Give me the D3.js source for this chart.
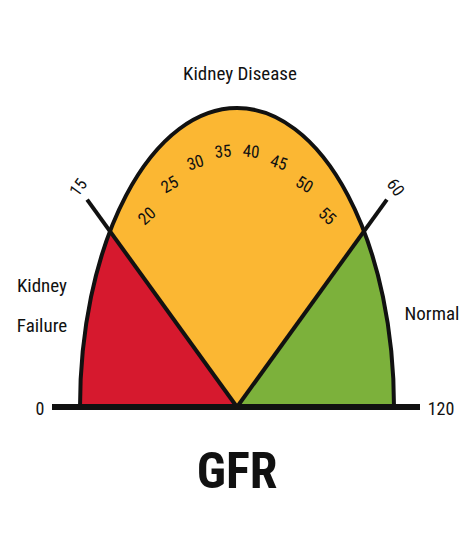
<!DOCTYPE html><html><head><script src="https://d3js.org/d3.v7.min.js"></script>
<style>body{margin:0;background:#fff}text{font-family:"Liberation Sans Narrow","Roboto Condensed","Liberation Sans",Arial,sans-serif}</style></head><body>
<script>
const zoneBounds=[0,15,60,120];
const zoneColors=["#d6192e","#fbb733","#7cb13b"];
const tickValues=[20,25,30,35,40,45,50,55];
const edgeTicks=[15,60];
const W=474,H=544,cx=237,cy=407,rx=157,ry=299;
const ang=d3.scaleLinear().domain([0,15,37.5,60,120]).range([180,144,90,36,0]);
const pt=(v,f)=>{const a=ang(v)*Math.PI/180;return [cx+rx*f*Math.cos(a),cy-ry*f*Math.sin(a)];};
const svg=d3.select("body").append("svg").attr("width",W).attr("height",H);
for(let i=0;i<3;i++){
  const p0=pt(zoneBounds[i],1),p1=pt(zoneBounds[i+1],1);
  svg.append("path").attr("d",`M${cx},${cy}L${p0}A${rx},${ry} 0 0 1 ${p1}Z`).attr("fill",zoneColors[i]).attr("stroke","#111").attr("stroke-width",2);
}
const l=pt(0,1),r=pt(120,1);
svg.append("path").attr("d",`M${l}A${rx},${ry} 0 0 1 ${r}`).attr("fill","none").attr("stroke","#111").attr("stroke-width",4);
edgeTicks.forEach(v=>{svg.append("line").attr("x1",cx).attr("y1",cy).attr("x2",pt(v,1.18)[0]).attr("y2",pt(v,1.18)[1]).attr("stroke","#111").attr("stroke-width",4);});
svg.append("line").attr("x1",52).attr("x2",420).attr("y1",cy).attr("y2",cy).attr("stroke","#111").attr("stroke-width",6);
const lab=(v,f)=>{const [x,y]=pt(v,f);svg.append("text").attr("transform",`translate(${x},${y}) rotate(${90-ang(v)})`).attr("text-anchor","middle").attr("dy","0.35em").attr("font-size",17).attr("fill","#111").text(v);};
tickValues.forEach(v=>lab(v,0.86));
edgeTicks.forEach(v=>lab(v,1.25));
const t=(x,y,s,txt,w)=>svg.append("text").attr("x",x).attr("y",y).attr("font-size",s).attr("font-weight",w||"normal").attr("text-anchor","middle").attr("fill","#111").text(txt);
t(240,80,19,"Kidney Disease");
t(42,292,19,"Kidney");t(42,332,19,"Failure");
t(432,320,19,"Normal");
t(40,415,18,"0");t(441,415,18,"120");
t(237,488,50,"GFR","bold");
</script></body></html>
